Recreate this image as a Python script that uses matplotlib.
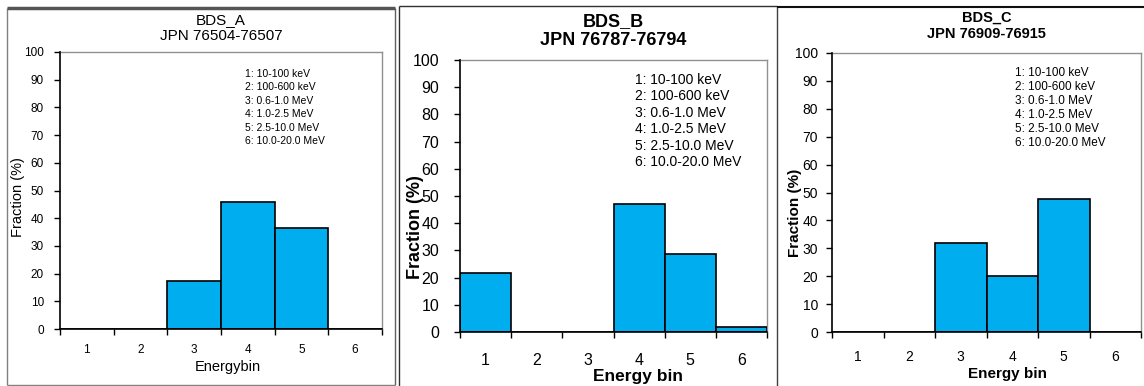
import matplotlib
matplotlib.use("Agg")
import matplotlib.pyplot as plt
from matplotlib.lines import Line2D

plt.rcParams['font.family'] = ['Liberation Sans', 'DejaVu Sans']

# ---- data ----
bins = [1, 2, 3, 4, 5, 6]
bin_labels = ["1", "2", "3", "4", "5", "6"]
energy_ranges = ["1: 10-100 keV", "2: 100-600 keV", "3: 0.6-1.0 MeV",
                 "4: 1.0-2.5 MeV", "5: 2.5-10.0 MeV", "6: 10.0-20.0 MeV"]
titles = ["BDS_A\nJPN 76504-76507", "BDS_B\nJPN 76787-76794", "BDS_C\nJPN 76909-76915"]
frac_A = [0, 0, 17.5, 46, 36.5, 0]
frac_B = [21.6, 0, 0, 47, 28.7, 1.8]
frac_C = [0, 0, 32, 20, 47.8, 0]
yticks = list(range(0, 101, 10))

W, H = 1144, 386
DPI = 100
fig = plt.figure(figsize=(W / DPI, H / DPI), dpi=DPI)
fig.patch.set_facecolor('white')

BAR = '#00AEEF'


def fx(x):
    return x / W


def fy(y):
    return 1 - y / H


def fline(xs, ys, color, lw):
    fig.add_artist(Line2D([fx(v) for v in xs], [fy(v) for v in ys],
                          transform=fig.transFigure, color=color, lw=lw,
                          solid_capstyle='butt'))


# panel frames
fline([7, 7], [8, 385], '#808080', 1.0)
fline([395, 395], [8, 385], '#606060', 1.0)
fline([7, 395], [385, 385], '#808080', 1.0)
fline([7, 395], [8, 8], '#555555', 2.5)
fline([399, 399], [6, 386], '#303030', 1.0)
fline([399, 777], [6, 6], '#303030', 1.0)
fline([777, 777], [6, 386], '#404040', 1.0)
fline([777, 1144], [7, 7], '#101010', 1.5)

panels = [
    dict(vals=frac_A, box=(60, 382, 52, 329), tick_fs=8.5, tick_w='normal',
         xlab_pad=11, ylab_pad=7.5, title_fs=11, title_w='normal', title_y=28,
         ylab=(18, 197, 10.5, 'normal'), xlab=(228, 367, 10.5, 'normal', "Energybin"),
         leg=(245, 74, 13.4, 7.5), title=titles[0]),
    dict(vals=frac_B, box=(460, 767, 60, 332), tick_fs=11.5, tick_w='normal',
         xlab_pad=15, ylab_pad=11, title_fs=13, title_w='bold', title_y=31,
         ylab=(415, 227, 13, 'bold'), xlab=(638, 377, 12.5, 'bold', "Energy bin"),
         leg=(635, 80, 16.4, 10), title=titles[1]),
    dict(vals=frac_C, box=(832, 1141, 53, 332), tick_fs=10, tick_w='normal',
         xlab_pad=13, ylab_pad=6, title_fs=10.5, title_w='bold', title_y=26,
         ylab=(795, 213, 11, 'bold'), xlab=(1007, 374, 11, 'bold', "Energy bin"),
         leg=(1015, 73, 14.1, 8.5), title=titles[2]),
]

for p in panels:
    l, r, t, b = p['box']
    ax = fig.add_axes([fx(l), fy(b), fx(r) - fx(l), fy(t) - fy(b)])
    ax.bar(bins, p['vals'], width=1.0, color=BAR, edgecolor='black', linewidth=1.2, zorder=3)
    ax.set_xlim(0.5, 6.5)
    ax.set_ylim(0, 100)
    ax.set_yticks(yticks)
    ax.set_yticklabels([str(v) for v in yticks])
    ax.set_xticks([v + 0.5 for v in [0] + bins])
    ax.set_xticklabels([])
    ax.set_xticks(bins, minor=True)
    ax.set_xticklabels(bin_labels, minor=True)
    ax.tick_params(axis='x', which='major', direction='out', length=4, width=1, color='black')
    ax.tick_params(axis='x', which='minor', length=0, pad=p['xlab_pad'], labelsize=p['tick_fs'])
    ax.tick_params(axis='y', direction='out', length=4, width=1, color='black',
                   pad=p['ylab_pad'], labelsize=p['tick_fs'])
    for s in ['left', 'bottom']:
        ax.spines[s].set_color('black')
        ax.spines[s].set_linewidth(1.2)
        ax.spines[s].set_zorder(4)
    for s in ['top', 'right']:
        ax.spines[s].set_color('#909090')
        ax.spines[s].set_linewidth(1.0)
    ax.set_facecolor('white')

    cx = (l + r) / 2
    fig.text(fx(cx), fy(p['title_y']), p['title'], ha='center', va='center',
             fontsize=p['title_fs'], fontweight=p['title_w'], linespacing=1.15)
    yx, yy, yfs, yw = p['ylab']
    fig.text(fx(yx), fy(yy), "Fraction (%)", rotation=90, ha='center', va='center',
             fontsize=yfs, fontweight=yw)
    xx, xy, xfs, xw, xt = p['xlab']
    fig.text(fx(xx), fy(xy), xt, ha='center', va='center', fontsize=xfs, fontweight=xw)
    lx, ly, lsp, lfs = p['leg']
    for i, s in enumerate(energy_ranges):
        fig.text(fx(lx), fy(ly + i * lsp), s, ha='left', va='center', fontsize=lfs)

fig.savefig('out.png', dpi=DPI, facecolor='white')
